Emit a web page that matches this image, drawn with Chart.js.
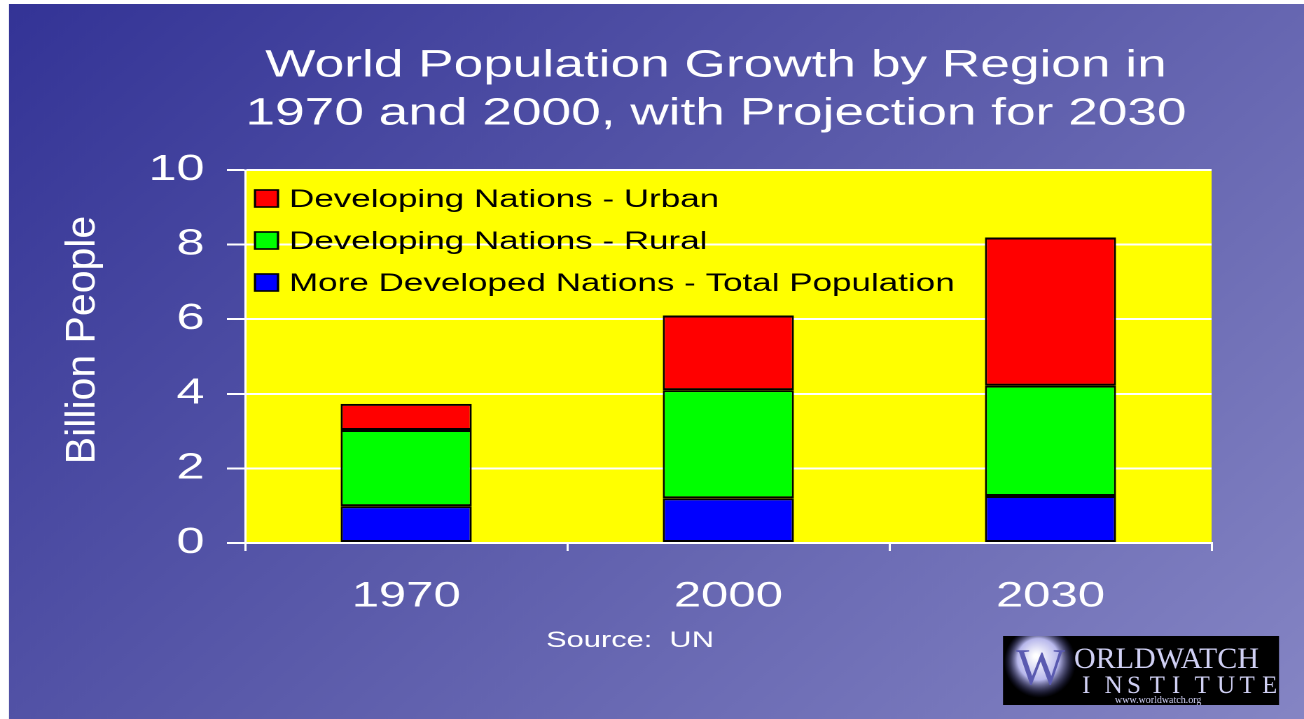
<!DOCTYPE html>
<html>
<head>
<meta charset="utf-8">
<script src="https://cdn.jsdelivr.net/npm/chart.js@4.4.1/dist/chart.umd.min.js"></script>
<style>
html, body { margin: 0; padding: 0; overflow: hidden; background: #fff; }
/* the slide is stretched sideways, so the chart is drawn narrow and widened */
#wrap { width: 931px; height: 719px; transform: scaleX(1.40064); transform-origin: 0 0; }
</style>
</head>
<body>
<div id="wrap"><canvas id="chart" width="931" height="719"></canvas></div>
<script>

var years = ['1970', '2000', '2030'];
var developedTotal = [0.99, 1.2, 1.26];
var developingRural = [2.04, 2.9, 2.96];
var developingUrban = [0.7, 2.0, 3.97];
var yTicks = [0, 2, 4, 6, 8, 10];

var seriesLabels = [
	'More Developed Nations - Total Population',
	'Developing Nations - Rural',
	'Developing Nations - Urban'
];
var seriesColors = ['#0000ff', '#00ff00', '#ff0000'];
var titleLines = ['World Population Growth by Region in', '1970 and 2000, with Projection for 2030'];
var yTitle = 'Billion People';
var sourceText = 'Source:  UN';

var S = 1304 / 931;
var FONT = '"Liberation Sans", Arial, sans-serif';

var slidePlugin = {
	id: 'slide',
	beforeDraw: function(chart){
		var ctx = chart.ctx, W = chart.width, H = chart.height, a = chart.chartArea;
		ctx.save();
		var g = ctx.createLinearGradient(0, 0, W, H);
		g.addColorStop(0, '#333396');
		g.addColorStop(0.5, '#5c5cab');
		g.addColorStop(1, '#8585c4');
		ctx.fillStyle = g;
		ctx.fillRect(0, 0, W, H);
		ctx.fillStyle = '#ffffff';
		ctx.fillRect(0, 0, 9 / S, H);
		ctx.fillRect(0, 0, W, 4);
		ctx.fillStyle = '#ffff00';
		ctx.fillRect(a.left, a.top, a.right - a.left, a.bottom - a.top);
		ctx.restore();
	},
	afterDraw: function(chart){
		var ctx = chart.ctx;
		ctx.save();

		// title
		ctx.fillStyle = '#ffffff';
		ctx.font = '38px ' + FONT;
		ctx.textAlign = 'center';
		ctx.textBaseline = 'middle';
		ctx.fillText(titleLines[0], 716 / S, 66);
		ctx.fillText(titleLines[1], 716 / S, 114);

		// source
		ctx.font = '22px ' + FONT;
		ctx.fillText(sourceText, 630 / S, 641);

		// legend, top series first
		var ds = chart.data.datasets;
		ctx.textAlign = 'left';
		ctx.font = '25px ' + FONT;
		for (var i = 0; i < ds.length; i++) {
			var d = ds[ds.length - 1 - i];
			var cy = 199 + 42 * i;
			ctx.fillStyle = d.backgroundColor;
			ctx.fillRect(255 / S, cy - 9, 23 / S, 17);
			ctx.strokeStyle = '#000000';
			ctx.lineWidth = 1.6;
			ctx.strokeRect(255 / S, cy - 9, 23 / S, 17);
			ctx.fillStyle = '#000000';
			ctx.fillText(d.label, 289 / S, cy + 1);
		}

		// the rest is drawn in real pixels, not stretched
		ctx.scale(1 / S, 1);

		// y title
		ctx.save();
		ctx.translate(83, 340);
		ctx.rotate(-Math.PI / 2);
		ctx.fillStyle = '#ffffff';
		ctx.font = '41px ' + FONT;
		ctx.textAlign = 'center';
		ctx.textBaseline = 'middle';
		ctx.fillText(yTitle, 0, 0);
		ctx.restore();

		// logo
		ctx.save();
		ctx.fillStyle = '#000000';
		ctx.fillRect(1003, 636, 276, 69);
		ctx.beginPath();
		ctx.rect(1003, 636, 276, 69);
		ctx.clip();
		var rg = ctx.createRadialGradient(1036, 656, 2, 1040, 662, 36);
		rg.addColorStop(0, '#ffffff');
		rg.addColorStop(0.55, '#b8b8ec');
		rg.addColorStop(1, 'rgba(60,60,140,0)');
		ctx.fillStyle = rg;
		ctx.beginPath();
		ctx.arc(1040, 662, 36, 0, Math.PI * 2);
		ctx.fill();
		ctx.fillStyle = '#5a5ab0';
		ctx.font = '52px "Liberation Serif", serif';
		ctx.textBaseline = 'alphabetic';
		ctx.fillText('W', 1016, 684);
		ctx.fillStyle = '#d0d0f4';
		ctx.font = '30px "Liberation Serif", serif';
		ctx.fillText('ORLDWATCH', 1074, 668);
		ctx.font = '25px "Liberation Serif", serif';
		var letters = 'INSTITUTE';
		for (var k = 0; k < letters.length; k++) {
			ctx.fillText(letters[k], 1082 + k * 22.5, 693);
		}
		ctx.font = '10px "Liberation Serif", serif';
		ctx.fillText('www.worldwatch.org', 1115, 703);
		ctx.restore();

		ctx.restore();
	}
};

var barBorder = {top: 2, bottom: 2, left: 1.5, right: 1.5};

new Chart(document.getElementById('chart'), {
	type: 'bar',
	data: {
		labels: years,
		datasets: [
			{label: seriesLabels[0], data: developedTotal, backgroundColor: seriesColors[0], borderColor: '#000000', borderWidth: barBorder, borderSkipped: false},
			{label: seriesLabels[1], data: developingRural, backgroundColor: seriesColors[1], borderColor: '#000000', borderWidth: barBorder, borderSkipped: false},
			{label: seriesLabels[2], data: developingUrban, backgroundColor: seriesColors[2], borderColor: '#000000', borderWidth: barBorder, borderSkipped: false}
		]
	},
	options: {
		responsive: false,
		devicePixelRatio: 2,
		animation: false,
		layout: { padding: { top: 170, right: 66, left: 0, bottom: 0 } },
		datasets: { bar: { barPercentage: 0.407, categoryPercentage: 1 } },
		plugins: {
			legend: { display: false },
			title: { display: false },
			tooltip: { enabled: false }
		},
		scales: {
			x: {
				stacked: true,
				afterFit: function(scale){ scale.height = 176; },
				grid: { offset: true, drawOnChartArea: false, drawTicks: true, tickLength: 8, color: '#ffffff', lineWidth: 1.5 },
				border: { color: '#ffffff', width: 2 },
				ticks: { color: '#ffffff', font: { family: FONT, size: 35 }, padding: 25, maxRotation: 0 }
			},
			y: {
				stacked: true,
				min: 0,
				max: 10,
				afterFit: function(scale){ scale.width = 175; },
				afterBuildTicks: function(scale){ scale.ticks = yTicks.map(function(v){ return {value: v}; }); },
				grid: { color: '#ffffff', lineWidth: 2, tickLength: 13 },
				border: { color: '#ffffff', width: 1.5 },
				ticks: { color: '#ffffff', font: { family: FONT, size: 36 }, padding: 16 }
			}
		}
	},
	plugins: [slidePlugin]
});

</script>
</body>
</html>
